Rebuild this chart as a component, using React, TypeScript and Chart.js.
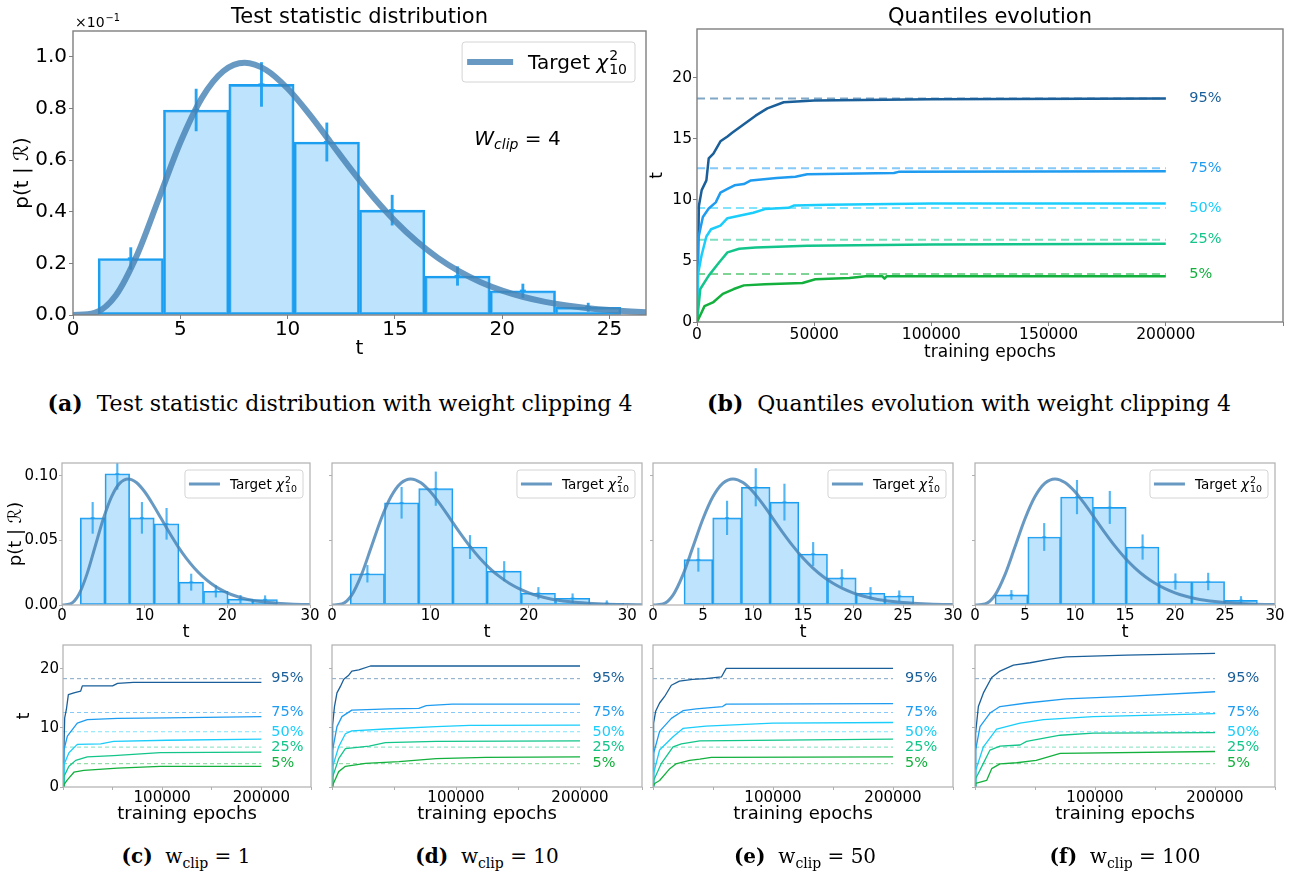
import React, { useEffect, useRef } from 'react';
import { Chart, registerables } from 'chart.js';
Chart.register(...registerables);

const FONT = "'DejaVu Sans', sans-serif";
Chart.defaults.font.family = FONT;
Chart.defaults.color = '#000';

// ---------- Target chi2 (k=10) density, sampled at integer t ----------
const chiT = [0, 1, 2, 3, 4, 5, 6, 7, 8, 9, 10, 11, 12, 13, 14, 15, 16, 17, 18, 19, 20, 21, 22, 23, 24, 25, 26, 27, 28, 29, 30, 31, 32, 33];
const chiPdf = [0, 0.00079, 0.007664, 0.023533, 0.045112, 0.066801, 0.084016, 0.094406, 0.097683, 0.094905, 0.087734, 0.07791, 0.066926, 0.055911, 0.045613, 0.036458, 0.028626, 0.022127, 0.016869, 0.012702, 0.009458, 0.006973, 0.005094, 0.003691, 0.002654, 0.001895, 0.001345, 0.000949, 0.000666, 0.000464, 0.000323, 0.000223, 0.000154, 0.000105];

// ---------- Histograms: bin edges, densities, errors ----------
const edgesA = [1.17, 4.215, 7.26, 10.305, 13.35, 16.395, 19.44, 22.485, 25.53];
const valsA = [0.0219, 0.0794, 0.0893, 0.067, 0.0406, 0.0151, 0.0094, 0.003];
const errsA = [0.0042, 0.0081, 0.0085, 0.0074, 0.0058, 0.0036, 0.0026, 0.0016];

const edgesC = [2.22, 5.2, 8.18, 11.16, 14.14, 17.12, 20.1, 23.08, 26.06];
const valsC = [0.0675, 0.1016, 0.0675, 0.0629, 0.0177, 0.0106, 0.0045, 0.0042];
const errsC = [0.012, 0.012, 0.012, 0.012, 0.0063, 0.0045, 0.003, 0.003];

const edgesD = [1.86, 5.335, 8.81, 12.285, 15.76, 19.235, 22.71, 26.185, 29.66];
const valsD = [0.0242, 0.0792, 0.0901, 0.0449, 0.0262, 0.0091, 0.0052, 0.0013];
const errsD = [0.0065, 0.012, 0.013, 0.009, 0.0075, 0.0045, 0.0035, 0.002];

const edgesE = [3.1, 5.97, 8.84, 11.71, 14.58, 17.45, 20.32, 23.19, 26.06];
const valsE = [0.0351, 0.0675, 0.0912, 0.0797, 0.0395, 0.021, 0.0091, 0.007];
const errsE = [0.009, 0.013, 0.0145, 0.014, 0.009, 0.0065, 0.0045, 0.004];

const edgesF = [2.0, 5.28, 8.56, 11.84, 15.12, 18.4, 21.68, 24.96, 28.24];
const valsF = [0.0078, 0.0527, 0.0836, 0.0756, 0.0449, 0.0182, 0.0182, 0.0036];
const errsF = [0.0035, 0.0105, 0.013, 0.0125, 0.0095, 0.006, 0.0065, 0.003];

// ---------- Quantiles ----------
const qNames = ['5%', '25%', '50%', '75%', '95%'];
const qTargets = [3.94, 6.74, 9.34, 12.59, 18.31];
const qColors = ['#13b03d', '#13c58b', '#1acdfb', '#1f9cf0', '#1a5f99'];

// [training epoch, t]
const q5B = [[0, 0], [2000, 0.8], [3200, 1.3], [6800, 1.6], [11000, 2.3], [15700, 2.7], [20000, 3.0], [29000, 3.1], [45000, 3.2], [50500, 3.5], [65000, 3.6], [72000, 3.75], [79000, 3.75], [80000, 3.55], [81000, 3.75], [200000, 3.75]];
const q25B = [[0, 0], [1400, 2.7], [5000, 3.8], [9500, 4.9], [13000, 5.7], [18000, 6.0], [25000, 6.1], [47000, 6.25], [100000, 6.35], [200000, 6.4]];
const q50B = [[0, 0], [500, 4.0], [2000, 5.5], [4000, 7.0], [6000, 7.6], [10000, 7.9], [13000, 8.5], [18000, 8.7], [24000, 8.95], [29000, 9.25], [39000, 9.35], [41500, 9.55], [56000, 9.6], [100000, 9.7], [200000, 9.7]];
const q75B = [[0, 0], [500, 6.8], [2500, 8.6], [5000, 9.3], [8000, 9.8], [10000, 10.6], [13000, 10.9], [16000, 11.2], [20000, 11.3], [23000, 11.6], [34000, 11.8], [42000, 11.9], [47000, 12.1], [84000, 12.2], [86000, 12.3], [200000, 12.35]];
const q95B = [[0, 0], [800, 9.5], [2000, 10.8], [4000, 11.6], [5000, 13.4], [7000, 13.8], [10000, 14.8], [13000, 15.2], [15000, 15.5], [20000, 16.2], [25000, 16.9], [30000, 17.5], [37000, 18.0], [50000, 18.15], [100000, 18.25], [200000, 18.3]];

const q5C = [[0, 0], [1000, 0.4], [4400, 1.2], [11000, 2.5], [21000, 2.8], [55000, 3.2], [98000, 3.5], [200000, 3.5]];
const q25C = [[0, 0], [1000, 1.8], [6000, 3.5], [12800, 4.5], [24500, 5.1], [51000, 5.3], [98000, 5.8], [200000, 5.9]];
const q50C = [[0, 0], [1000, 3.8], [6000, 5.8], [14400, 7.2], [38000, 7.3], [51000, 7.7], [105000, 7.9], [200000, 8.1]];
const q75C = [[0, 0], [1000, 6.3], [4400, 8.6], [9400, 9.7], [14400, 10.8], [24500, 11.4], [55000, 11.6], [105000, 11.7], [200000, 11.9]];
const q95C = [[0, 0], [1700, 11.7], [3400, 13.1], [5400, 15.6], [11000, 15.9], [17800, 16.2], [19500, 17.1], [50000, 17.1], [55000, 17.5], [71000, 17.7], [200000, 17.7]];

const q5D = [[0, 0], [500, 0.3], [5400, 2.6], [10800, 3.5], [27000, 4.0], [54000, 4.3], [84000, 4.8], [124000, 5.0], [200000, 5.1]];
const q25D = [[0, 0], [500, 1.7], [5400, 4.8], [10800, 6.5], [30000, 6.9], [43000, 7.5], [84000, 7.7], [200000, 7.8]];
const q50D = [[0, 0], [500, 3.4], [5400, 6.8], [10800, 9.0], [16000, 9.5], [43000, 9.8], [84000, 10.2], [111000, 10.4], [200000, 10.45]];
const q75D = [[0, 0], [500, 6.25], [4000, 10.2], [8000, 11.9], [16000, 13.0], [46000, 13.2], [70000, 13.3], [76000, 13.75], [97000, 14.0], [200000, 14.0]];
const q95D = [[0, 0], [500, 10.5], [2000, 13.6], [4000, 15.9], [6800, 17.0], [9500, 18.2], [13500, 18.9], [16000, 19.6], [21600, 19.8], [31000, 20.45], [200000, 20.45]];

const q5E = [[0, 0], [1400, 0.6], [5500, 1.1], [14000, 3.1], [19000, 3.9], [30500, 4.5], [39000, 4.7], [48600, 5.0], [200000, 5.1]];
const q25E = [[0, 0], [500, 1.1], [7000, 4.0], [16700, 6.8], [23600, 7.3], [39000, 7.8], [200000, 8.1]];
const q50E = [[0, 0], [500, 2.3], [5500, 6.25], [16700, 8.5], [25000, 9.9], [44000, 10.3], [100000, 10.8], [200000, 10.9]];
const q75E = [[0, 0], [500, 5.7], [5500, 9.4], [15300, 11.6], [25000, 12.9], [36000, 13.2], [58000, 13.6], [61000, 14.0], [200000, 14.1]];
const q95E = [[0, 0], [500, 10.8], [2200, 12.8], [5500, 14.2], [9700, 15.3], [15300, 17.2], [22000, 17.9], [33000, 18.2], [44000, 18.3], [57000, 18.6], [61000, 20.05], [200000, 20.05]];

const q5F = [[0, 0], [500, 0.6], [9700, 1.1], [13900, 3.1], [20800, 3.9], [34700, 4.1], [51000, 4.5], [71000, 5.7], [200000, 6.0]];
const q25F = [[0, 0], [500, 1.4], [5500, 3.4], [12500, 6.25], [20800, 6.9], [37500, 7.1], [43000, 7.7], [71000, 8.75], [98500, 9.1], [200000, 9.2]];
const q50F = [[0, 0], [500, 2.8], [7000, 6.8], [18000, 9.8], [37500, 10.8], [57000, 11.4], [98500, 11.9], [200000, 12.4]];
const q75F = [[0, 0], [500, 6.25], [4200, 10.2], [12500, 12.5], [20800, 13.6], [43000, 14.2], [76000, 14.9], [126000, 15.3], [200000, 16.1]];
const q95F = [[0, 0], [500, 9.1], [2800, 13.6], [7000, 15.9], [13900, 18.5], [20800, 19.6], [32000, 20.6], [46000, 21.0], [62500, 21.6], [76000, 22.0], [126000, 22.3], [200000, 22.6]];

// ---------- styles ----------
const CURVE = 'rgba(70,130,180,0.82)';
const EDGE = '#1c9ef0';
const FILL = 'rgba(135,206,250,0.55)';

type Box = { x: number; y: number; w: number; h: number };
type Plot = { l: number; t: number; r: number; b: number };

function geom(box: Box, plot: Plot, titleH = 0) {
  return {
    yW: plot.l - box.x,
    xH: box.y + box.h - plot.b,
    padTop: plot.t - box.y - titleH,
    padRight: box.x + box.w - plot.r,
  };
}

function rgba(hex: string, a: number) {
  const n = parseInt(hex.slice(1), 16);
  return `rgba(${(n >> 16) & 255},${(n >> 8) & 255},${n & 255},${a})`;
}

function drawLegend(ctx: any, a: any, L: any) {
  const fs = L.fs;
  ctx.font = `${fs}px ${FONT}`;
  const w1 = ctx.measureText('Target ').width;
  ctx.font = `italic ${fs}px ${FONT}`;
  const w2 = ctx.measureText('χ').width;
  ctx.font = `${fs * 0.7}px ${FONT}`;
  const w3 = ctx.measureText('10').width;
  const textW = w1 + w2 + 1 + w3;
  const bw = L.padL + L.handle + L.gap + textW + L.padR;
  const x0 = a.right - L.offX - bw;
  const y0 = a.top + L.offY;
  const cy = y0 + L.h / 2;
  ctx.beginPath();
  ctx.roundRect(x0, y0, bw, L.h, 3);
  ctx.fillStyle = 'rgba(255,255,255,0.85)';
  ctx.fill();
  ctx.strokeStyle = '#d4d4d4';
  ctx.lineWidth = 1;
  ctx.stroke();
  ctx.beginPath();
  ctx.moveTo(x0 + L.padL, cy);
  ctx.lineTo(x0 + L.padL + L.handle, cy);
  ctx.strokeStyle = CURVE;
  ctx.lineWidth = L.lw;
  ctx.stroke();
  let tx = x0 + L.padL + L.handle + L.gap;
  const base = cy + fs * 0.36;
  ctx.fillStyle = '#000';
  ctx.textAlign = 'left';
  ctx.textBaseline = 'alphabetic';
  ctx.font = `${fs}px ${FONT}`;
  ctx.fillText('Target ', tx, base);
  tx += w1;
  ctx.font = `italic ${fs}px ${FONT}`;
  ctx.fillText('χ', tx, base);
  tx += w2 + 1;
  ctx.font = `${fs * 0.7}px ${FONT}`;
  ctx.fillText('2', tx, base - fs * 0.45);
  ctx.fillText('10', tx, base + fs * 0.22);
}

const decorPlugin = {
  id: 'decor',
  afterDraw(chart: any, _args: any, opts: any) {
    const { ctx, chartArea: a, scales } = chart;
    ctx.save();
    if (opts.frameColor) {
      ctx.strokeStyle = opts.frameColor;
      ctx.lineWidth = opts.frameWidth || 1;
      ctx.strokeRect(a.left, a.top, a.right - a.left, a.bottom - a.top);
    }
    if (opts.qLabels) {
      const q = opts.qLabels;
      ctx.font = `${q.size}px ${FONT}`;
      ctx.textAlign = 'left';
      ctx.textBaseline = 'middle';
      qNames.forEach((name, i) => {
        ctx.fillStyle = qColors[i];
        ctx.fillText(name, scales.x.getPixelForValue(q.x), scales.y.getPixelForValue(qTargets[i]));
      });
    }
    if (opts.legend) drawLegend(ctx, a, opts.legend);
    if (opts.sci) {
      ctx.fillStyle = '#000';
      ctx.textAlign = 'left';
      ctx.textBaseline = 'alphabetic';
      ctx.font = `${opts.sci.size}px ${FONT}`;
      const bx = a.left + 2;
      const by = a.top - 4;
      ctx.fillText('×10', bx, by);
      const w = ctx.measureText('×10').width;
      ctx.font = `${opts.sci.size * 0.7}px ${FONT}`;
      ctx.fillText('−1', bx + w + 1, by - opts.sci.size * 0.4);
    }
    if (opts.wclip) {
      const W = opts.wclip;
      const px = scales.x.getPixelForValue(W.x);
      const py = scales.y.getPixelForValue(W.y);
      ctx.fillStyle = '#000';
      ctx.textAlign = 'left';
      ctx.textBaseline = 'alphabetic';
      ctx.font = `italic ${W.size}px ${FONT}`;
      ctx.fillText('W', px, py);
      let x = px + ctx.measureText('W').width;
      ctx.font = `italic ${W.size * 0.7}px ${FONT}`;
      ctx.fillText('clip', x, py + W.size * 0.22);
      x += ctx.measureText('clip').width;
      ctx.font = `${W.size}px ${FONT}`;
      ctx.fillText(' = 4', x, py);
    }
    ctx.restore();
  },
};

function tickGrid(color: string, len: number) {
  return { display: true, drawOnChartArea: false, drawTicks: true, tickLength: len, color, offset: false };
}

function histConfig(h: any) {
  const g = geom(h.box, h.plot, h.titleH || 0);
  const centers = h.edges.slice(0, -1).map((e: number, i: number) => (e + h.edges[i + 1]) / 2);
  return {
    type: 'bar',
    data: {
      datasets: [
        {
          type: 'line',
          data: chiT.map((t, i) => ({ x: t, y: chiPdf[i] })),
          borderColor: CURVE,
          borderWidth: h.curveW,
          pointRadius: 0,
          cubicInterpolationMode: 'monotone',
          fill: false,
          order: 0,
        },
        {
          type: 'line',
          data: centers.map((c: number, i: number) => ({ x: c, y: h.vals[i] })),
          showLine: false,
          pointStyle: 'line',
          pointRadius: h.capR,
          borderColor: h.errColor,
          borderWidth: h.errW,
          order: 1,
        },
        {
          type: 'bar',
          data: centers.map((c: number, i: number) => ({ x: c, y: [h.vals[i] - h.errs[i], h.vals[i] + h.errs[i]] })),
          backgroundColor: h.errColor,
          borderWidth: 0,
          barThickness: h.errW,
          grouped: false,
          order: 2,
        },
        {
          type: 'bar',
          data: centers.map((c: number, i: number) => ({ x: c, y: h.vals[i] })),
          backgroundColor: FILL,
          borderColor: EDGE,
          borderWidth: h.barBW,
          borderSkipped: false,
          grouped: false,
          barPercentage: 1,
          categoryPercentage: 1,
          order: 3,
        },
      ],
    },
    options: {
      animation: false,
      responsive: false,
      devicePixelRatio: 1,
      events: [],
      layout: { padding: { left: 0, top: g.padTop, right: g.padRight, bottom: 0 } },
      plugins: {
        legend: { display: false },
        tooltip: { enabled: false },
        title: h.title
          ? { display: true, text: h.title, fullSize: false, color: '#000', font: { size: h.titleFs, weight: 'normal', lineHeight: 1 }, padding: { top: 7.5, bottom: h.titleH - h.titleFs - 7.5 } }
          : { display: false },
        decor: {
          frameColor: h.frame,
          frameWidth: h.frameW,
          legend: h.legend,
          sci: h.sci,
          wclip: h.wclip,
        },
      },
      scales: {
        x: {
          type: 'linear',
          min: 0,
          max: h.xMax,
          offset: false,
          border: { display: false },
          grid: tickGrid(h.frame, h.tickLen),
          ticks: { stepSize: h.xStep, autoSkip: false, maxRotation: 0, includeBounds: false, padding: h.xPad, font: { size: h.tickFs, lineHeight: 1 }, callback: (v: number) => String(v) },
          title: { display: true, text: 't', font: { size: h.labelFs, lineHeight: 1.2 }, padding: { top: 0, bottom: h.xTitlePad } },
          afterFit: (s: any) => { s.height = g.xH; },
        },
        y: {
          type: 'linear',
          min: 0,
          max: h.yMax,
          border: { display: false },
          grid: tickGrid(h.frame, h.tickLen),
          ticks: { stepSize: h.yStep, includeBounds: false, padding: h.yPad, font: { size: h.tickFs, lineHeight: 1 }, callback: h.yFmt },
          title: { display: !!h.yTitle, text: h.yTitle || '', font: { size: h.labelFs, lineHeight: 1.2 }, padding: { top: h.yTitlePad, bottom: 0 } },
          afterFit: (s: any) => { s.width = g.yW; },
        },
      },
    },
    plugins: [decorPlugin],
  };
}

function quantConfig(q: any) {
  const g = geom(q.box, q.plot, q.titleH || 0);
  const dashed = qTargets.map((v, i) => ({
    data: [{ x: 0, y: v }, { x: 200000, y: v }],
    borderColor: rgba(qColors[i], 0.55),
    borderWidth: q.dashW,
    borderDash: q.dash,
    pointRadius: 0,
    order: 1,
  }));
  const curves = q.curves.map((c: number[][], i: number) => ({
    data: c.map((p) => ({ x: p[0], y: p[1] })),
    borderColor: qColors[i],
    borderWidth: q.curveW,
    pointRadius: 0,
    tension: 0,
    borderJoinStyle: 'round',
    order: 0,
  }));
  return {
    type: 'line',
    data: { datasets: [...curves, ...dashed] },
    options: {
      animation: false,
      responsive: false,
      devicePixelRatio: 1,
      events: [],
      layout: { padding: { left: 0, top: g.padTop, right: g.padRight, bottom: 0 } },
      plugins: {
        legend: { display: false },
        tooltip: { enabled: false },
        title: q.title
          ? { display: true, text: q.title, fullSize: false, color: '#000', font: { size: q.titleFs, weight: 'normal', lineHeight: 1 }, padding: { top: 7.5, bottom: q.titleH - q.titleFs - 7.5 } }
          : { display: false },
        decor: {
          frameColor: q.frame,
          frameWidth: q.frameW,
          qLabels: { x: 210000, size: q.qFs },
        },
      },
      scales: {
        x: {
          type: 'linear',
          min: 0,
          max: 250000,
          offset: false,
          border: { display: false },
          grid: tickGrid(q.frame, q.tickLen),
          ticks: { stepSize: 50000, autoSkip: false, maxRotation: 0, includeBounds: false, padding: q.xPad, font: { size: q.tickFs, lineHeight: 1 }, callback: q.xFmt },
          title: { display: true, text: 'training epochs', font: { size: q.labelFs, lineHeight: 1.2 }, padding: { top: 0, bottom: q.xTitlePad } },
          afterFit: (s: any) => { s.height = g.xH; },
        },
        y: {
          type: 'linear',
          min: 0,
          max: 24,
          border: { display: false },
          grid: tickGrid(q.frame, q.tickLen),
          ticks: { stepSize: q.yStep, includeBounds: false, padding: q.yPad, font: { size: q.tickFs, lineHeight: 1 }, callback: q.yFmt },
          title: { display: !!q.yTitle, text: 't', font: { size: q.labelFs, lineHeight: 1.2 }, padding: { top: q.yTitlePad, bottom: 0 } },
          afterFit: (s: any) => { s.width = g.yW; },
        },
      },
    },
    plugins: [decorPlugin],
  };
}

function ChartBox({ box, config }: { box: Box; config: any }) {
  const ref = useRef<HTMLCanvasElement>(null);
  useEffect(() => {
    const c = new Chart(ref.current as HTMLCanvasElement, config);
    return () => c.destroy();
  }, []);
  return (
    <canvas
      ref={ref}
      width={box.w}
      height={box.h}
      style={{ position: 'absolute', left: box.x, top: box.y, width: box.w, height: box.h }}
    />
  );
}

const topFrame = '#7f7f7f';
const botFrame = '#b0b0b0';
const botLegend = { fs: 13.5, offX: 7, offY: 7, h: 28, padL: 4, handle: 31, gap: 10, padR: 6, lw: 3 };
const fmt2 = (v: number) => v.toFixed(2);
const none = () => '';
const fmtA = (v: number) => (v * 10).toFixed(1);
const fmtQB = (v: number) => (v <= 200000 ? String(v) : '');
const fmtQbot = (v: number) => (v === 100000 || v === 200000 ? String(v) : '');

function botHist(box: Box, plot: Plot, edges: number[], vals: number[], errs: number[], xMax: number, xStep: number, first: boolean) {
  return histConfig({
    box, plot, edges, vals, errs, xMax, xStep,
    yMax: 0.11, yStep: 0.05, yFmt: first ? fmt2 : none,
    curveW: 3, barBW: 1.2, errW: 1.5, capR: 2, errColor: 'rgba(28,158,240,0.75)',
    frame: botFrame, frameW: 1.2, tickLen: 3, tickFs: 15, labelFs: 18,
    xPad: 1, yPad: 1, xTitlePad: 2.2, yTitle: first ? 'p(t | ℛ)' : '', yTitlePad: 6,
    legend: botLegend,
  });
}

function botQuant(box: Box, plot: Plot, curves: number[][][], first: boolean) {
  return quantConfig({
    box, plot, curves,
    yStep: 10, yFmt: first ? (v: number) => String(v) : none, xFmt: fmtQbot,
    frame: botFrame, frameW: 1.2, tickLen: 3, tickFs: 15, labelFs: 18, qFs: 14.5,
    curveW: 1.3, dashW: 1, dash: [4, 3],
    xPad: 1, yPad: 1, xTitlePad: 7.2, yTitle: first, yTitlePad: 14,
  });
}

const boxA = { x: 0, y: 0, w: 660, h: 365 };
const plotA = { l: 73, t: 31, r: 646, b: 315 };
const boxB = { x: 640, y: 0, w: 654, h: 365 };
const plotB = { l: 697, t: 29, r: 1283, b: 322 };

const hBoxes = [
  { x: 0, y: 450, w: 322, h: 195 },
  { x: 322, y: 450, w: 330, h: 195 },
  { x: 643, y: 450, w: 323, h: 195 },
  { x: 965, y: 450, w: 325, h: 195 },
];
const hPlots = [
  { l: 62, t: 463, r: 310, b: 605 },
  { l: 332, t: 463, r: 642, b: 605 },
  { l: 653, t: 463, r: 953, b: 605 },
  { l: 975, t: 463, r: 1275, b: 605 },
];
const qBoxes = [
  { x: 0, y: 632, w: 322, h: 200 },
  { x: 322, y: 632, w: 330, h: 200 },
  { x: 643, y: 632, w: 323, h: 200 },
  { x: 965, y: 632, w: 325, h: 200 },
];
const qPlots = [
  { l: 63, t: 645, r: 311, b: 787 },
  { l: 332, t: 645, r: 642, b: 787 },
  { l: 653, t: 645, r: 953, b: 787 },
  { l: 975, t: 645, r: 1275, b: 787 },
];

const configA = histConfig({
  box: boxA, plot: plotA, edges: edgesA, vals: valsA, errs: errsA,
  xMax: 26.7, xStep: 5, yMax: 0.11, yStep: 0.02, yFmt: fmtA,
  curveW: 6, barBW: 2.2, errW: 2.2, capR: 3, errColor: 'rgba(28,158,240,0.95)',
  frame: topFrame, frameW: 1.4, tickLen: 4, tickFs: 20, labelFs: 20,
  xPad: 1, yPad: 2, xTitlePad: 4, yTitle: 'p(t | ℛ)', yTitlePad: 11,
  title: 'Test statistic distribution', titleFs: 21, titleH: 31,
  legend: { fs: 20, offX: 11, offY: 11, h: 40, padL: 5, handle: 46, gap: 15, padR: 8, lw: 6 },
  sci: { size: 14 },
  wclip: { x: 18.7, y: 0.066, size: 20 },
});

const configB = quantConfig({
  box: boxB, plot: plotB, curves: [q5B, q25B, q50B, q75B, q95B],
  yStep: 5, yFmt: (v: number) => String(v), xFmt: fmtQB,
  frame: topFrame, frameW: 1.4, tickLen: 4, tickFs: 15.5, labelFs: 17, qFs: 14.5,
  curveW: 2.5, dashW: 2, dash: [8, 5],
  xPad: 1, yPad: 1, xTitlePad: 1.8, yTitle: true, yTitlePad: 7.2,
  title: 'Quantiles evolution', titleFs: 21, titleH: 29,
});

const histSets = [
  [edgesC, valsC, errsC, 30, 10],
  [edgesD, valsD, errsD, 31.5, 10],
  [edgesE, valsE, errsE, 30, 5],
  [edgesF, valsF, errsF, 30, 5],
] as any[];
const quantSets = [
  [q5C, q25C, q50C, q75C, q95C],
  [q5D, q25D, q50D, q75D, q95D],
  [q5E, q25E, q50E, q75E, q95E],
  [q5F, q25F, q50F, q75F, q95F],
];
const botCaptions = [
  { tag: '(c)', value: '1', x: 186 },
  { tag: '(d)', value: '10', x: 487 },
  { tag: '(e)', value: '50', x: 805 },
  { tag: '(f)', value: '100', x: 1125 },
];

const capStyle: any = {
  position: 'absolute',
  fontFamily: "'DejaVu Serif', serif",
  fontSize: 22,
  whiteSpace: 'nowrap',
  transform: 'translate(-50%, -50%)',
  color: '#000',
  lineHeight: 1,
};

export default function App() {
  return (
    <div style={{ position: 'absolute', left: 0, top: 0, width: 1294, height: 875, background: '#fff', overflow: 'hidden' }}>
      <ChartBox box={boxA} config={configA} />
      <ChartBox box={boxB} config={configB} />
      {hBoxes.map((b, i) => (
        <ChartBox key={'h' + i} box={b} config={botHist(b, hPlots[i], histSets[i][0], histSets[i][1], histSets[i][2], histSets[i][3], histSets[i][4], i === 0)} />
      ))}
      {qBoxes.map((b, i) => (
        <ChartBox key={'q' + i} box={b} config={botQuant(b, qPlots[i], quantSets[i], i === 0)} />
      ))}
      <div style={{ ...capStyle, left: 340, top: 403 }}>
        <b>(a)</b>&nbsp; Test statistic distribution with weight clipping 4
      </div>
      <div style={{ ...capStyle, left: 969, top: 403 }}>
        <b>(b)</b>&nbsp; Quantiles evolution with weight clipping 4
      </div>
      {botCaptions.map((c) => (
        <div key={c.tag} style={{ ...capStyle, fontSize: 20, left: c.x, top: 856 }}>
          <b>{c.tag}</b>&nbsp;&nbsp;w
          <span style={{ fontSize: 14, position: 'relative', top: 5 }}>clip</span> = {c.value}
        </div>
      ))}
    </div>
  );
}
